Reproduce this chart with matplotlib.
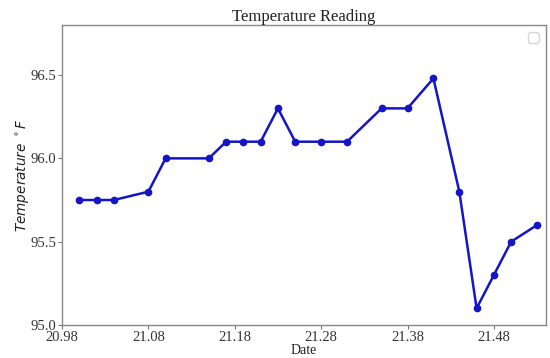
import matplotlib
matplotlib.use("Agg")
import matplotlib.pyplot as plt

dates = [21.00, 21.02, 21.04, 21.08, 21.10, 21.15, 21.17, 21.19, 21.21, 21.23, 21.25,
         21.28, 21.31, 21.35, 21.38, 21.41, 21.44, 21.46, 21.48, 21.50, 21.53]
temps = [95.75, 95.75, 95.75, 95.8, 96.0, 96.0, 96.1, 96.1, 96.1, 96.3, 96.1,
         96.1, 96.1, 96.3, 96.3, 96.48, 95.8, 95.1, 95.3, 95.5, 95.6]
xticks = [20.98, 21.08, 21.18, 21.28, 21.38, 21.48]
xtick_labels = ["20.98", "21.08", "21.18", "21.28", "21.38", "21.48"]
yticks = [95.0, 95.5, 96.0, 96.5]
ytick_labels = ["95.0", "95.5", "96.0", "96.5"]

serif = ["Liberation Serif", "DejaVu Serif"]

fig = plt.figure(figsize=(5.5, 3.58), dpi=100)
ax = fig.add_axes([0.1127, 0.0922, 0.8795, 0.8378])

ax.plot(dates, temps, color="#1414C8", linewidth=1.8, marker="o", markersize=4.5)

ax.set_xlim(20.98, 21.54)
ax.set_ylim(95.0, 96.8)
ax.set_xticks(xticks)
ax.set_xticklabels(xtick_labels, fontfamily=serif, fontsize=10.5, color="#333333")
ax.set_yticks(yticks)
ax.set_yticklabels(ytick_labels, fontfamily=serif, fontsize=10.5, color="#333333")
ax.tick_params(axis="both", length=3, width=0.8, color="#777777", pad=1)
for s in ax.spines.values():
    s.set_color("#888888")
    s.set_linewidth(1.0)

ax.set_title("Temperature Reading", fontfamily=serif, fontsize=12, color="#222222", pad=3)
ax.set_xlabel("Date", fontfamily=serif, fontsize=10, color="#222222", labelpad=0)
ax.set_ylabel(r"$Temperature\ ^\circ F$", fontsize=9.8, color="#222222", labelpad=-1)
ax.legend(loc="upper right")

fig.savefig("out.png", dpi=100)
